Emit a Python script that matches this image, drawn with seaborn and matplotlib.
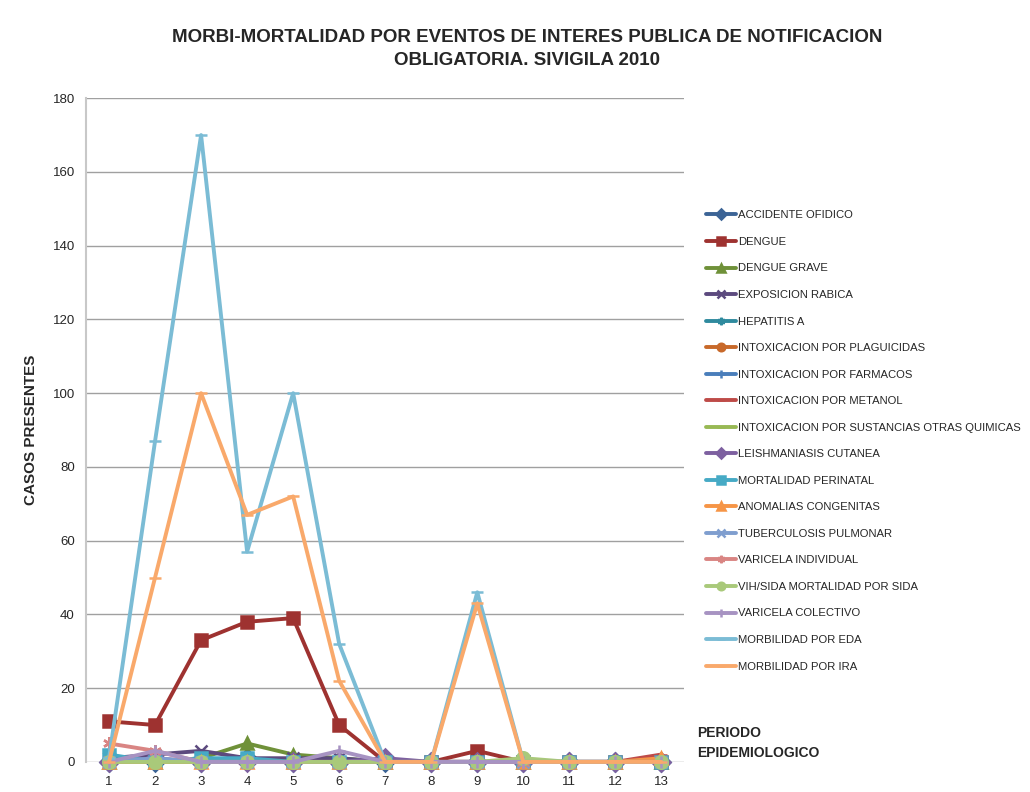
import matplotlib
matplotlib.use("Agg")
import matplotlib.pyplot as plt
import seaborn as sns
import pandas as pd

# Data
periodos = list(range(1, 14))

series_names = [
    "ACCIDENTE OFIDICO", "DENGUE", "DENGUE GRAVE", "EXPOSICION RABICA",
    "HEPATITIS A", "INTOXICACION POR PLAGUICIDAS", "INTOXICACION POR FARMACOS",
    "INTOXICACION POR METANOL", "INTOXICACION POR SUSTANCIAS OTRAS QUIMICAS",
    "LEISHMANIASIS CUTANEA", "MORTALIDAD PERINATAL", "ANOMALIAS CONGENITAS",
    "TUBERCULOSIS PULMONAR", "VARICELA INDIVIDUAL", "VIH/SIDA MORTALIDAD POR SIDA",
    "VARICELA COLECTIVO", "MORBILIDAD POR EDA", "MORBILIDAD POR IRA",
]

accidente_ofidico = [0, 0, 0, 1, 0, 0, 0, 0, 0, 0, 0, 0, 0]
dengue = [11, 10, 33, 38, 39, 10, 0, 0, 3, 0, 0, 0, 0]
dengue_grave = [0, 0, 1, 5, 2, 1, 0, 0, 0, 0, 0, 0, 0]
exposicion_rabica = [1, 2, 3, 1, 1, 1, 0, 0, 0, 0, 0, 0, 0]
hepatitis_a = [0, 0, 0, 0, 0, 0, 0, 0, 0, 0, 0, 0, 0]
plaguicidas = [0, 0, 0, 0, 0, 0, 0, 0, 0, 0, 0, 0, 0]
farmacos = [0, 0, 0, 0, 0, 0, 0, 0, 0, 0, 0, 0, 0]
metanol = [0, 0, 0, 0, 0, 0, 0, 0, 0, 0, 0, 0, 2]
otras_quimicas = [0, 0, 0, 0, 0, 0, 0, 0, 0, 0, 0, 0, 0]
leishmaniasis = [0, 1, 0, 0, 0, 0, 1, 0, 0, 0, 0, 0, 0]
mortalidad_perinatal = [2, 0, 1, 1, 0, 0, 0, 0, 0, 0, 0, 0, 0]
anomalias = [0, 0, 0, 0, 0, 0, 0, 0, 0, 0, 0, 0, 1]
tuberculosis = [0, 1, 0, 0, 0, 0, 0, 0, 0, 0, 0, 0, 0]
varicela_individual = [5, 3, 0, 0, 0, 0, 0, 0, 0, 0, 0, 0, 0]
vih_sida = [0, 0, 0, 0, 0, 0, 0, 0, 0, 1, 0, 0, 0]
varicela_colectivo = [0, 3, 0, 0, 0, 3, 0, 0, 0, 0, 0, 0, 0]
morbilidad_eda = [1, 87, 170, 57, 100, 32, 0, 0, 46, 0, 0, 0, 0]
morbilidad_ira = [0, 50, 100, 67, 72, 22, 0, 0, 43, 0, 0, 0, 0]

all_values = [
    accidente_ofidico, dengue, dengue_grave, exposicion_rabica, hepatitis_a,
    plaguicidas, farmacos, metanol, otras_quimicas, leishmaniasis,
    mortalidad_perinatal, anomalias, tuberculosis, varicela_individual,
    vih_sida, varicela_colectivo, morbilidad_eda, morbilidad_ira,
]

colors = [
    "#3C6496", "#9E3230", "#6F9139", "#5C4A7E", "#2F8A9E", "#C8692A",
    "#4A7EBB", "#BE4B48", "#98B954", "#7D60A0", "#46AAC5", "#F69546",
    "#7F9ECF", "#D98583", "#A9C97A", "#A793C2", "#7BBCD5", "#F9A96B",
]
asterisk = (6, 2, 0)
markers = ["D", "s", "^", "x", asterisk, "o", "+", "_", "_",
           "D", "s", "^", "x", asterisk, "o", "+", "_", "_"]

sns.set_style("white")
plt.rcParams["font.family"] = ["Liberation Sans", "DejaVu Sans"]

fig = plt.figure(figsize=(10.3, 7.92), dpi=100)
ax = fig.add_axes([0.0835, 0.038, 0.581, 0.838])

for name, vals, col, mk in zip(series_names, all_values, colors, markers):
    d = pd.DataFrame({"periodo": periodos, "casos": vals})
    sns.lineplot(
        data=d, x="periodo", y="casos", color=col, marker=mk,
        linewidth=2.8, markersize=9, markeredgewidth=1.8,
        markeredgecolor=col, label=name, ax=ax, clip_on=False,
    )

ax.set_xlim(0.5, 13.5)
ax.set_ylim(0, 180)
ax.set_yticks(range(0, 181, 20))
ax.set_xticks(periodos)
ax.tick_params(axis="y", labelsize=9.5, length=0, pad=8)
ax.tick_params(axis="x", labelsize=9.5, length=0, pad=10)
ax.yaxis.grid(True, color="#A0A0A0", linewidth=1)
ax.set_axisbelow(True)
for side in ["top", "right", "bottom"]:
    ax.spines[side].set_visible(False)
ax.spines["left"].set_color("#C8C8C8")
ax.spines["left"].set_linewidth(1.5)
ax.set_xlabel("")
ax.set_ylabel("CASOS PRESENTES", fontsize=11, fontweight="bold")
ax.yaxis.set_label_coords(-0.080, 0.5)

handles, labels = ax.get_legend_handles_labels()
ax.get_legend().remove()
fig.legend(
    handles, labels, loc="upper left", bbox_to_anchor=(0.681, 0.740),
    frameon=False, fontsize=8.1, handlelength=2.7, handletextpad=0.12,
    labelspacing=1.47, borderaxespad=0, markerscale=0.6,
)

fig.text(0.512, 0.938, "MORBI-MORTALIDAD POR EVENTOS DE INTERES PUBLICA DE NOTIFICACION\nOBLIGATORIA. SIVIGILA 2010",
         ha="center", va="center", fontsize=13.5, fontweight="bold", linespacing=1.5)
fig.text(0.677, 0.062, "PERIODO\nEPIDEMIOLOGICO", ha="left", va="center",
         fontsize=10, fontweight="bold", linespacing=1.6)

fig.savefig("out.png", dpi=100)
